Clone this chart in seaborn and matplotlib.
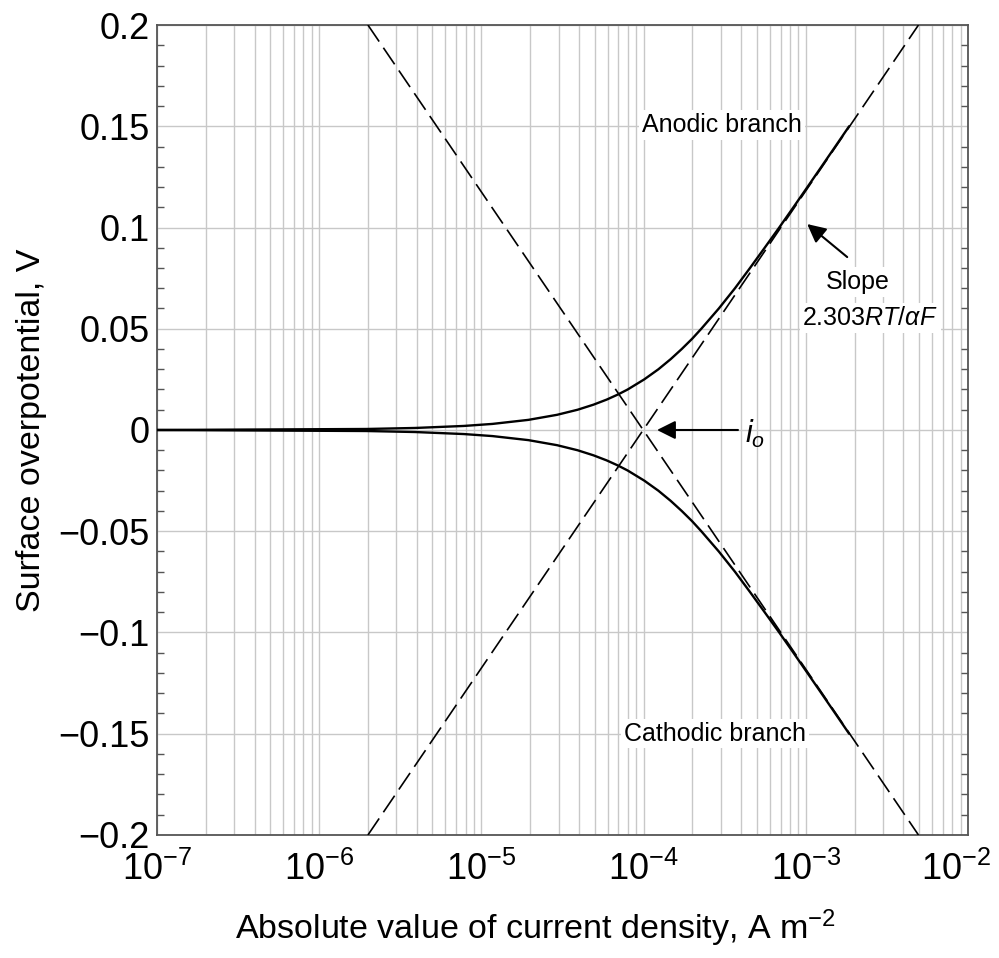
"""
Tafel plot: surface overpotential vs. absolute current density,
with anodic and cathodic branches and their Tafel asymptotes.
"""

import numpy as np
import pandas as pd
import matplotlib
matplotlib.use("Agg")
import matplotlib.pyplot as plt
import matplotlib.ticker as mticker
import matplotlib.transforms as mtransforms
import seaborn as sns

# Data
eta_anodic = [0.0, 0.0005, 0.001, 0.002, 0.003, 0.005, 0.0075, 0.01, 0.0125, 0.015,
              0.0175, 0.02, 0.025, 0.03, 0.035, 0.04, 0.045, 0.05, 0.06, 0.07,
              0.08, 0.09, 0.10, 0.11, 0.12, 0.13, 0.14, 0.15]
i_anodic = [1e-7, 1.95e-6, 3.9e-6, 7.8e-6, 1.17e-5, 1.95e-5, 2.93e-5, 3.92e-5, 4.91e-5, 5.92e-5,
            6.94e-5, 7.98e-5, 1.01e-4, 1.235e-4, 1.47e-4, 1.72e-4, 1.99e-4, 2.27e-4, 2.91e-4, 3.66e-4,
            4.53e-4, 5.58e-4, 6.86e-4, 8.39e-4, 1.024e-3, 1.248e-3, 1.52e-3, 1.85e-3]
eta_cathodic = [-0.0, -0.0005, -0.001, -0.002, -0.003, -0.005, -0.0075, -0.01, -0.0125, -0.015,
                -0.0175, -0.02, -0.025, -0.03, -0.035, -0.04, -0.045, -0.05, -0.06, -0.07,
                -0.08, -0.09, -0.10, -0.11, -0.12, -0.13, -0.14, -0.15]
i_cathodic = i_anodic

tafel_i = [2.0e-6, 4.95e-3]
tafel_anodic_eta = [-0.2, 0.2]
tafel_cathodic_eta = [0.2, -0.2]

x_ticks = [1e-7, 1e-6, 1e-5, 1e-4, 1e-3, 1e-2]
x_tick_labels = ["$10^{-7}$", "$10^{-6}$", "$10^{-5}$", "$10^{-4}$", "$10^{-3}$", "$10^{-2}$"]
y_ticks = [-0.2, -0.15, -0.1, -0.05, 0, 0.05, 0.1, 0.15, 0.2]
y_tick_labels = ["\u22120.2", "\u22120.15", "\u22120.1", "\u22120.05", "0", "0.05", "0.1", "0.15", "0.2"]

sns.set_theme(style="ticks")
plt.rcParams["font.family"] = ["Liberation Sans", "DejaVu Sans"]
plt.rcParams["mathtext.fontset"] = "custom"
plt.rcParams["mathtext.rm"] = "Liberation Sans"
plt.rcParams["mathtext.it"] = "Liberation Sans:italic"
plt.rcParams["mathtext.bf"] = "Liberation Sans:bold"
plt.rcParams["text.color"] = "black"
plt.rcParams["axes.labelcolor"] = "black"

fig = plt.figure(figsize=(9.99, 9.58), dpi=100)
ax = fig.add_axes([0.157, 0.1284, 0.812, 0.8455])

# Tafel asymptotes (dashed)
dash_kw = dict(color="black", linewidth=1.2, dashes=(12, 4.5))
ax.plot(tafel_i, tafel_anodic_eta, **dash_kw, zorder=3)
ax.plot(tafel_i, tafel_cathodic_eta, **dash_kw, zorder=3)

# Butler-Volmer branches
df_a = pd.DataFrame({"i": i_anodic, "eta": eta_anodic})
df_c = pd.DataFrame({"i": i_cathodic, "eta": eta_cathodic})
sns.lineplot(data=df_a, x="i", y="eta", sort=False, color="black", linewidth=1.7, ax=ax, zorder=4)
sns.lineplot(data=df_c, x="i", y="eta", sort=False, color="black", linewidth=1.7, ax=ax, zorder=4)

ax.set_xscale("log")
ax.set_xlim(1e-7, 1e-2)
ax.set_ylim(-0.2, 0.2)

ax.set_xticks(x_ticks)
ax.set_xticklabels(x_tick_labels)
ax.xaxis.set_minor_locator(mticker.LogLocator(base=10, subs=np.arange(2, 10)))
ax.xaxis.set_minor_formatter(mticker.NullFormatter())
ax.set_yticks(y_ticks)
ax.set_yticklabels(y_tick_labels)
ax.yaxis.set_minor_locator(mticker.MultipleLocator(0.01))

ax.grid(True, which="major", axis="both", color="#c8c8c8", linewidth=1.0, zorder=0)
ax.grid(True, which="minor", axis="x", color="#c8c8c8", linewidth=1.0, zorder=0)
ax.set_axisbelow(True)

ax.tick_params(axis="both", which="both", direction="in", right=True, top=False,
               colors="#555555", labelcolor="black", labelsize=26)
ax.tick_params(axis="x", which="both", length=0, pad=12)
ax.tick_params(axis="y", which="major", length=0, pad=5)
ax.tick_params(axis="y", which="minor", length=5, width=1.0)
for s in ax.spines.values():
    s.set_color("#555555")
    s.set_linewidth(1.3)

# keep the last x tick label inside the figure
last = ax.get_xticklabels()[-1]
last.set_transform(last.get_transform() + mtransforms.ScaledTranslation(-12 / 100, 0, fig.dpi_scale_trans))

ax.set_xlabel("Absolute value of current density, A m$^{-2}$", fontsize=24.5)
ax.xaxis.set_label_coords(0.467, -0.09)
ax.set_ylabel("Surface overpotential, V", fontsize=24.5, labelpad=8)

# Annotations
box = dict(facecolor="white", edgecolor="none", pad=2)
ax.text(3.04e-4, 0.1506, "Anodic branch", fontsize=18, ha="center", va="center", bbox=box, zorder=5)
ax.text(2.75e-4, -0.150, "Cathodic branch", fontsize=18, ha="center", va="center", bbox=box, zorder=5)
ax.text(2.1e-3, 0.073, "Slope", fontsize=18, ha="center", va="center", bbox=box, zorder=5)
ax.text(2.49e-3, 0.0553, r"2.303$RT/\alpha F$", fontsize=18, ha="center", va="center", bbox=box, zorder=5)
ax.text(4.2e-4, -0.002, r"$i_o$", fontsize=22, ha="left", va="center", zorder=5)

arrow_kw = dict(arrowstyle="-|>", color="black", lw=1.5, mutation_scale=28, shrinkA=0, shrinkB=0)
ax.annotate("", xy=(1.02e-3, 0.1017), xytext=(1.8e-3, 0.0854), arrowprops=arrow_kw, zorder=6)
ax.annotate("", xy=(1.21e-4, 0.0), xytext=(3.82e-4, 0.0), arrowprops=arrow_kw, zorder=6)

fig.savefig("out.png", dpi=100)
